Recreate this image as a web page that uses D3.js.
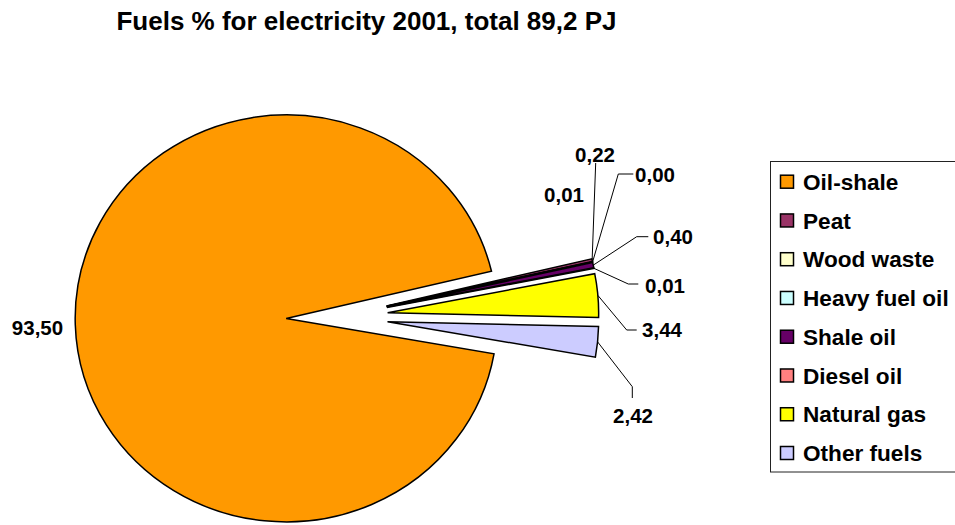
<!DOCTYPE html>
<html>
<head>
<meta charset="utf-8">
<script src="https://cdn.jsdelivr.net/npm/d3@7/dist/d3.min.js"></script>
<style>
  html, body { margin: 0; padding: 0; background: #fff; }
  svg { display: block; font-family: "Liberation Sans", Arial, sans-serif; font-weight: bold; }
</style>
</head>
<body>
<svg id="chart" width="955" height="525"></svg>
<script>
// Fuel shares (%) for electricity generation, 2001
const fuels  = ["Oil-shale", "Peat", "Wood waste", "Heavy fuel oil", "Shale oil", "Diesel oil", "Natural gas", "Other fuels"];
const shares = [93.50, 0.22, 0.01, 0.00, 0.40, 0.01, 3.44, 2.42];
const colors = ["#FF9900", "#993366", "#FFFFCC", "#CCFFFF", "#660066", "#FF8080", "#FFFF00", "#CCCCFF"];
const title  = "Fuels % for electricity 2001, total 89,2 PJ";

// Label placement: text centre and optional leader path (elbow, end)
const labelLayout = [
  { x: 37.5, y: 327.5 },
  { x: 595,  y: 155,   leader: [[595.7, 163]] },
  { x: 564,  y: 194.5 },
  { x: 655,  y: 174.5, leader: [[618.3, 174], [633.3, 174]] },
  { x: 673,  y: 237,   leader: [[636.7, 236.7], [648.3, 236.7]] },
  { x: 665,  y: 285.5, leader: [[628.3, 284], [638.3, 284]] },
  { x: 662,  y: 329.5, leader: [[626.7, 330], [636.7, 330]] },
  { x: 633,  y: 415.5, leader: [[632.3, 386.7], [632.3, 398]] }
];

const svg = d3.select("#chart");
const fmt = v => v.toFixed(2).replace(".", ",");

// Title
svg.append("text")
  .attr("x", 366.5).attr("y", 29.5)
  .attr("text-anchor", "middle")
  .attr("font-size", 26)
  .text(title);

// Pie geometry
const cx = 337, cy = 317, r = 203.5, explode = 49, sx = 1.037;
const deg = Math.PI / 180;

const pie = d3.pie().sort(null).value(d => d)
  .startAngle(100 * deg).endAngle(460 * deg);
const arcs = pie(shares);
const arc = d3.arc().innerRadius(0).outerRadius(r);

const g = svg.append("g").attr("transform", `translate(${cx},${cy}) scale(${sx},1)`);

const offset = a => {
  const m = (a.startAngle + a.endAngle) / 2;
  return [Math.sin(m) * explode, -Math.cos(m) * explode];
};

g.selectAll("path.slice")
  .data(arcs)
  .join("path")
  .attr("class", "slice")
  .attr("transform", d => { const o = offset(d); return `translate(${o[0]},${o[1]})`; })
  .attr("d", arc)
  .attr("fill", (d, i) => colors[i])
  .attr("stroke", "#000")
  .attr("stroke-width", 1.5)
  .attr("stroke-linejoin", "miter")
  .attr("vector-effect", "non-scaling-stroke");

// Outer mid-point of a slice in screen coordinates
const outerPoint = a => {
  const m = (a.startAngle + a.endAngle) / 2;
  const R = explode + r;
  return [cx + sx * Math.sin(m) * R, cy - Math.cos(m) * R];
};

// Leader lines
const line = d3.line();
arcs.forEach((a, i) => {
  const L = labelLayout[i];
  if (!L.leader) return;
  svg.append("path")
    .attr("d", line([outerPoint(a), ...L.leader]))
    .attr("fill", "none")
    .attr("stroke", "#000")
    .attr("stroke-width", 1);
});

// Value labels
const labelSize = 20.5;
svg.selectAll("text.value")
  .data(arcs)
  .join("text")
  .attr("class", "value")
  .attr("x", (d, i) => labelLayout[i].x)
  .attr("y", (d, i) => labelLayout[i].y + 0.358 * labelSize)
  .attr("text-anchor", "middle")
  .attr("font-size", labelSize)
  .text(d => fmt(d.data));

// Legend
const legendSize = 22.6;
const legend = svg.append("g");
legend.append("rect")
  .attr("x", 770.5).attr("y", 161.5)
  .attr("width", 200).attr("height", 310.5)
  .attr("fill", "#fff").attr("stroke", "#222").attr("stroke-width", 1);

const ly = d3.scalePoint().domain(fuels).range([181.7, 453]);

const items = legend.selectAll("g.item")
  .data(fuels)
  .join("g")
  .attr("class", "item")
  .attr("transform", d => `translate(0,${ly(d)})`);

items.append("rect")
  .attr("x", 780.5).attr("y", -6.5)
  .attr("width", 13).attr("height", 13)
  .attr("fill", (d, i) => colors[i])
  .attr("stroke", "#000").attr("stroke-width", 1.5);

items.append("text")
  .attr("x", 803)
  .attr("y", 0.358 * legendSize)
  .attr("font-size", legendSize)
  .text(d => d);
</script>
</body>
</html>
